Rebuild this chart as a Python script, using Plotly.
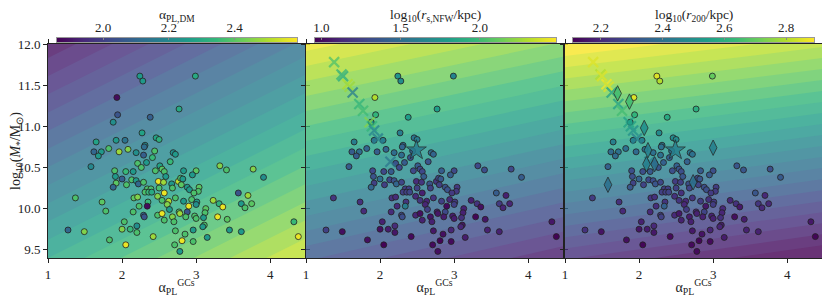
import numpy as np
import plotly.graph_objects as go

# ---- observed galaxies (same positions in all panels) ----
x_gc = [2.24, 2.28, 1.93, 2.77, 1.94, 2.38, 1.88, 2.27, 1.65, 1.92, 2.04, 2.46, 2.50, 2.31, 2.30, 1.62, 1.72, 1.82, 1.96, 2.08,
        2.19, 2.44, 2.69, 2.99, 1.68, 2.29, 2.72, 2.33, 2.41, 2.21, 2.26, 2.51, 2.65, 1.58, 1.90, 2.05, 2.15, 2.45, 2.54, 2.57,
        2.59, 1.91, 2.00, 1.92, 2.06, 2.13, 2.19, 2.22, 2.29, 2.49, 2.56, 2.67, 2.68, 2.76, 1.88, 2.34, 2.39, 2.50, 2.57, 2.31,
        2.36, 2.40, 1.37, 1.73, 2.16, 2.21, 2.48, 2.54, 2.63, 2.72, 2.35, 2.34, 2.23, 2.61, 2.64, 1.78, 2.15, 2.29, 2.30, 2.48,
        2.54, 2.57, 2.68, 2.70, 2.03, 1.27, 1.49, 2.00, 2.11, 2.20, 2.20, 2.72, 1.83, 2.42, 2.05, 2.71, 3.32, 3.41, 3.77, 3.91,
        2.83, 3.00, 2.95, 2.79, 2.82, 2.80, 2.88, 2.91, 3.04, 3.03, 2.97, 2.83, 2.94, 3.01, 3.00, 3.23, 3.31, 3.36, 3.57, 3.70,
        3.61, 3.66, 3.75, 2.90, 3.13, 3.12, 2.77, 2.78, 2.88, 2.86, 2.98, 3.00, 3.10, 3.29, 3.42, 3.11, 3.09, 2.96, 2.85, 3.45,
        3.61, 3.15, 4.32, 4.38, 2.81, 2.96, 2.78]
log_mstar = [11.61, 11.55, 11.35, 11.21, 11.14, 11.11, 11.05, 10.92, 10.81, 10.83, 10.83, 10.86, 10.84, 10.77, 10.75, 10.69, 10.69, 10.73, 10.69, 10.72,
             10.68, 10.70, 10.68, 11.61, 10.64, 10.65, 10.66, 10.56, 10.62, 10.55, 10.50, 10.52, 10.57, 10.51, 10.46, 10.45, 10.45, 10.46, 10.48, 10.45,
             10.39, 10.39, 10.36, 10.31, 10.29, 10.35, 10.34, 10.30, 10.32, 10.33, 10.32, 10.30, 10.25, 10.33, 10.26, 10.24, 10.24, 10.25, 10.19, 10.20,
             10.20, 10.20, 10.13, 10.08, 10.13, 10.14, 10.15, 10.10, 10.09, 10.13, 10.08, 10.03, 10.03, 10.05, 9.99, 9.97, 9.96, 9.92, 9.90, 9.92,
             9.94, 9.86, 9.90, 9.84, 9.84, 9.74, 9.72, 9.75, 9.75, 9.79, 9.71, 9.73, 9.62, 9.66, 9.56, 9.56, 10.52, 10.47, 10.48, 10.38,
             10.46, 10.46, 10.41, 10.37, 10.36, 10.29, 10.26, 10.23, 10.26, 10.21, 10.19, 10.09, 10.11, 10.08, 10.05, 10.10, 10.06, 10.02, 10.19, 10.16,
             10.06, 10.01, 10.06, 10.03, 10.00, 9.95, 9.96, 9.94, 9.96, 9.90, 9.91, 9.88, 9.89, 9.90, 9.87, 9.80, 9.78, 9.74, 9.69, 9.74,
             9.72, 9.65, 9.84, 9.66, 9.61, 9.60, 9.48]
alpha_dm = [2.25, 2.25, 1.88, 2.30, 2.05, 2.08, 2.22, 2.28, 2.28, 2.25, 2.14, 2.28, 2.32, 2.22, 2.12, 2.10, 2.25, 2.38, 2.48, 2.45,
            2.22, 2.38, 2.22, 2.30, 2.25, 2.08, 2.25, 2.25, 2.35, 2.38, 2.38, 2.28, 2.35, 2.20, 2.38, 2.35, 2.25, 2.38, 2.40, 2.38,
            2.25, 2.25, 2.08, 2.40, 2.38, 2.38, 2.25, 2.10, 2.38, 2.57, 2.48, 2.25, 2.38, 2.52, 2.10, 2.38, 2.38, 2.38, 2.57, 2.38,
            2.35, 2.30, 2.38, 2.40, 2.40, 2.45, 2.45, 2.38, 2.50, 2.38, 2.35, 1.88, 2.38, 2.45, 2.25, 2.38, 2.38, 2.10, 2.05, 2.38,
            2.57, 2.38, 2.45, 2.38, 2.38, 2.10, 2.45, 2.45, 2.35, 2.22, 2.38, 2.38, 2.38, 2.48, 2.57, 2.38, 2.45, 2.38, 2.45, 2.22,
            2.25, 2.40, 2.25, 2.38, 2.25, 2.40, 2.25, 2.25, 2.40, 2.38, 2.38, 2.25, 2.38, 2.25, 2.22, 2.48, 2.33, 2.57, 2.05, 2.48,
            2.25, 2.38, 2.40, 2.57, 2.40, 2.38, 2.38, 2.48, 2.05, 2.38, 2.38, 2.38, 2.25, 2.57, 2.40, 2.38, 2.25, 2.25, 2.38, 2.25,
            2.25, 2.25, 2.35, 2.57, 2.57, 2.38, 2.25]
log_rs = [1.75, 1.70, 2.30, 1.80, 1.95, 1.80, 1.75, 1.60, 1.60, 1.55, 1.60, 1.55, 1.60, 1.50, 1.45, 1.40, 1.50, 1.45, 1.40, 1.45,
          1.50, 1.45, 1.50, 1.65, 1.40, 1.50, 1.45, 1.40, 1.35, 1.35, 1.30, 1.40, 1.35, 1.40, 1.30, 1.30, 1.40, 1.30, 1.30, 1.30,
          1.40, 1.35, 1.50, 1.25, 1.25, 1.28, 1.35, 1.45, 1.28, 1.15, 1.20, 1.35, 1.25, 1.20, 1.45, 1.25, 1.25, 1.25, 1.10, 1.25,
          1.25, 1.28, 1.20, 1.18, 1.18, 1.15, 1.15, 1.20, 1.12, 1.20, 1.20, 1.60, 1.15, 1.12, 1.25, 1.15, 1.15, 1.30, 1.32, 1.12,
          1.02, 1.10, 1.05, 1.10, 1.10, 1.25, 1.02, 1.02, 1.08, 1.15, 1.05, 1.05, 1.02, 1.00, 0.97, 1.00, 1.30, 1.32, 1.30, 1.40,
          1.40, 1.30, 1.40, 1.28, 1.38, 1.25, 1.35, 1.35, 1.22, 1.22, 1.22, 1.25, 1.15, 1.22, 1.25, 1.10, 1.18, 1.02, 1.40, 1.10,
          1.22, 1.12, 1.12, 1.00, 1.10, 1.10, 1.10, 1.05, 1.30, 1.08, 1.08, 1.08, 1.18, 0.98, 1.05, 1.05, 1.12, 1.12, 1.02, 1.10,
          1.10, 1.08, 1.05, 0.97, 0.97, 1.00, 1.02]
log_r200 = [2.85, 2.80, 2.85, 2.60, 2.62, 2.58, 2.55, 2.48, 2.45, 2.45, 2.45, 2.48, 2.48, 2.42, 2.40, 2.38, 2.40, 2.40, 2.38, 2.40,
            2.40, 2.40, 2.42, 2.70, 2.38, 2.40, 2.40, 2.35, 2.35, 2.33, 2.32, 2.35, 2.35, 2.35, 2.30, 2.30, 2.33, 2.30, 2.32, 2.30,
            2.32, 2.30, 2.35, 2.27, 2.27, 2.28, 2.30, 2.32, 2.28, 2.25, 2.26, 2.30, 2.27, 2.27, 2.32, 2.26, 2.26, 2.26, 2.22, 2.26,
            2.26, 2.27, 2.25, 2.22, 2.23, 2.22, 2.22, 2.23, 2.20, 2.23, 2.23, 2.35, 2.21, 2.20, 2.25, 2.20, 2.20, 2.25, 2.26, 2.20,
            2.16, 2.18, 2.17, 2.18, 2.18, 2.22, 2.15, 2.15, 2.17, 2.20, 2.16, 2.16, 2.14, 2.13, 2.12, 2.13, 2.32, 2.32, 2.30, 2.33,
            2.33, 2.30, 2.33, 2.28, 2.32, 2.27, 2.30, 2.30, 2.25, 2.25, 2.25, 2.25, 2.22, 2.24, 2.25, 2.20, 2.22, 2.16, 2.32, 2.20,
            2.23, 2.20, 2.20, 2.16, 2.20, 2.19, 2.20, 2.18, 2.27, 2.18, 2.18, 2.18, 2.22, 2.14, 2.17, 2.17, 2.19, 2.19, 2.15, 2.18,
            2.18, 2.17, 2.16, 2.12, 2.12, 2.13, 2.13]

# ---- simulated galaxies (crosses), diamonds and star ----
sim_x = [1.38, 1.48, 1.50, 1.56, 1.59, 1.63, 1.72, 1.77, 1.86, 1.89, 1.92, 1.97, 2.14]
sim_y = [11.78, 11.63, 11.61, 11.51, 11.48, 11.41, 11.27, 11.19, 11.05, 11.00, 10.95, 10.85, 10.57]
sim_rs = [2.05, 1.95, 1.90, 2.30, 2.25, 1.60, 1.95, 2.00, 2.20, 1.95, 1.65, 1.60, 1.55]
sim_r200 = [2.85, 2.80, 2.85, 2.88, 2.85, 2.55, 2.55, 2.65, 2.55, 2.55, 2.50, 2.45, 2.45]
dia_x = [1.71, 1.87, 2.07, 2.12, 2.10, 2.21, 1.58, 2.73, 3.00]
dia_y = [11.40, 11.30, 10.98, 10.71, 10.54, 10.54, 10.29, 10.32, 10.74]
dia_r200 = [2.65, 2.65, 2.50, 2.45, 2.45, 2.40, 2.40, 2.40, 2.45]
star_x = [2.49]
star_y = [10.71]
star_rs = [1.60]
star_r200 = [2.45]

# ---- background model surfaces: values read at the panel corners ----
bg_x = [1.0, 4.47]
bg_y = [9.4, 12.0]
bg_alpha = [[2.28, 2.52], [1.88, 2.12]]
bg_rs = [[1.35, 1.05], [2.42, 2.15]]
bg_r200 = [[2.20, 2.08], [2.88, 2.78]]

# colour ranges
rng_alpha = [1.86, 2.59]
rng_rs = [0.96, 2.48]
rng_r200 = [2.11, 2.89]

cb_titles = ["α<sub>PL,DM</sub>", "log<sub>10</sub>(<i>r</i><sub>s,NFW</sub>/kpc)", "log<sub>10</sub>(<i>r</i><sub>200</sub>/kpc)"]
cb_ticks = [[2.0, 2.2, 2.4], [1.0, 1.5, 2.0], [2.2, 2.4, 2.6, 2.8]]

FONT = "Liberation Serif"
fig = go.Figure()

panels = [
    (bg_alpha, rng_alpha, 0.034, alpha_dm),
    (bg_rs, rng_rs, 0.075, log_rs),
    (bg_r200, rng_r200, 0.036, log_r200),
]

for i, (bg, rg, step, cvals) in enumerate(panels):
    xa = "x" if i == 0 else f"x{i+1}"
    ya = "y" if i == 0 else f"y{i+1}"
    fig.add_trace(go.Contour(
        x=bg_x, y=bg_y, z=bg, xaxis=xa, yaxis=ya,
        colorscale="Viridis", zmin=rg[0], zmax=rg[1], zauto=False,
        autocontour=False,
        contours=dict(start=rg[0] - 0.6, end=rg[1] + 0.6, size=step, coloring="fill", showlines=False),
        line=dict(width=0), opacity=0.8, showscale=False, hoverinfo="skip"))
    fig.add_trace(go.Scatter(
        x=x_gc, y=log_mstar, xaxis=xa, yaxis=ya, mode="markers",
        marker=dict(size=6, color=cvals, colorscale="Viridis", cmin=rg[0], cmax=rg[1],
                    line=dict(color="#222222", width=0.8)),
        showlegend=False))

# simulated markers, panel 2
fig.add_trace(go.Scatter(
    x=sim_x, y=sim_y, xaxis="x2", yaxis="y2", mode="markers",
    marker=dict(symbol="x-thin", size=10,
                line=dict(width=2.2, color=sim_rs, colorscale="Viridis", cmin=rng_rs[0], cmax=rng_rs[1])),
    opacity=0.75, showlegend=False))
fig.add_trace(go.Scatter(
    x=star_x, y=star_y, xaxis="x2", yaxis="y2", mode="markers",
    marker=dict(symbol="star", size=15, color=star_rs, colorscale="Viridis", cmin=rng_rs[0], cmax=rng_rs[1],
                line=dict(width=0.8, color="#222222")), opacity=0.85, showlegend=False))
# simulated markers, panel 3
fig.add_trace(go.Scatter(
    x=sim_x, y=sim_y, xaxis="x3", yaxis="y3", mode="markers",
    marker=dict(symbol="x-thin", size=10,
                line=dict(width=2.2, color=sim_r200, colorscale="Viridis", cmin=rng_r200[0], cmax=rng_r200[1])),
    opacity=0.75, showlegend=False))
fig.add_trace(go.Scatter(
    x=dia_x, y=dia_y, xaxis="x3", yaxis="y3", mode="markers",
    marker=dict(symbol="diamond-tall", size=11, color=dia_r200, colorscale="Viridis", cmin=rng_r200[0], cmax=rng_r200[1],
                line=dict(width=0.8, color="#222222")), opacity=0.9, showlegend=False))
fig.add_trace(go.Scatter(
    x=star_x, y=star_y, xaxis="x3", yaxis="y3", mode="markers",
    marker=dict(symbol="star", size=15, color=star_r200, colorscale="Viridis", cmin=rng_r200[0], cmax=rng_r200[1],
                line=dict(width=0.8, color="#222222")), opacity=0.85, showlegend=False))

# colour bars as thin heatmaps on their own axes
rngs = [rng_alpha, rng_rs, rng_r200]
for i, rg in enumerate(rngs):
    vals = np.linspace(rg[0], rg[1], 256)
    fig.add_trace(go.Heatmap(
        x=vals, y=[0], z=[vals], xaxis=f"x{i+4}", yaxis=f"y{i+4}",
        colorscale="Viridis", zmin=rg[0], zmax=rg[1], showscale=False, hoverinfo="skip"))

# The page has an 8px body margin: the figure is drawn 8px right/down, so size it 822x289.
OFF = 8
W_PLOT = 774.0
doms = [[0.0, 257 / W_PLOT], [258 / W_PLOT, 515 / W_PLOT], [517 / W_PLOT, 1.0]]
cb_doms = [[(57 - 48) / W_PLOT, (297 - 48) / W_PLOT],
           [(315 - 48) / W_PLOT, (556 - 48) / W_PLOT],
           [(573 - 48) / W_PLOT, (814 - 48) / W_PLOT]]
ydom = [0.0, 214 / 250]
cb_ydom = [(258 - 42) / 250, (258 - 38) / 250]

axfont = dict(family=FONT, size=13, color="#222222")
layout = dict(
    width=830 - OFF, height=297 - OFF,
    margin=dict(l=48 - OFF, r=8, t=8 - OFF, b=39, autoexpand=False),
    paper_bgcolor="white", plot_bgcolor="white",
    font=axfont, showlegend=False,
)
for i in range(3):
    sx = "" if i == 0 else str(i + 1)
    layout[f"xaxis{sx}"] = dict(
        domain=doms[i], range=[1.0, 4.47], anchor="y" + sx, automargin=False,
        tickvals=[1, 2, 3, 4], ticktext=["1", "2", "3", "4"],
        ticks="outside", ticklen=4, tickcolor="#222222", mirror="allticks",
        showline=True, linecolor="#222222", linewidth=1, showgrid=False, zeroline=False,
        title=dict(text="α<sub>PL</sub><sup>GCs</sup>", font=dict(family=FONT, size=14), standoff=2),
        tickfont=axfont)
    ydict = dict(
        domain=ydom, range=[9.4, 12.0], anchor="x" + sx, automargin=False,
        tickvals=[9.5, 10.0, 10.5, 11.0, 11.5, 12.0], tickformat=".1f",
        showticklabels=(i == 0),
        ticks="outside", ticklen=4, tickcolor="#222222", mirror="allticks",
        showline=True, linecolor="#222222", linewidth=1, showgrid=False, zeroline=False,
        tickfont=axfont)
    if i == 0:
        ydict["title"] = dict(text="log<sub>10</sub>(<i>M</i><sub>*</sub>/M<sub>⊙</sub>)",
                              font=dict(family=FONT, size=14), standoff=0)
    layout[f"yaxis{sx}"] = ydict

annotations = []
for i in range(3):
    n = i + 4
    rg = rngs[i]
    layout[f"xaxis{n}"] = dict(
        domain=cb_doms[i], range=[rg[0], rg[1]], anchor=f"y{n}", side="top", automargin=False,
        tickvals=cb_ticks[i], tickformat=".1f", ticks="inside", ticklen=2, tickcolor="#888888",
        showline=True, mirror=True, linecolor="#999999", linewidth=1, showgrid=False, zeroline=False,
        tickfont=axfont)
    layout[f"yaxis{n}"] = dict(
        domain=cb_ydom, range=[-0.5, 0.5], anchor=f"x{n}", showticklabels=False, ticks="", automargin=False,
        showline=True, mirror=True, linecolor="#999999", linewidth=1, showgrid=False, zeroline=False)
    annotations.append(dict(
        text=cb_titles[i], xref="paper", yref="paper",
        x=(cb_doms[i][0] + cb_doms[i][1]) / 2, y=(258 - 15) / 250,
        xanchor="center", yanchor="middle", showarrow=False,
        font=dict(family=FONT, size=13.5, color="#222222")))
layout["annotations"] = annotations

fig.update_layout(**layout)
fig.write_html("out.html")
